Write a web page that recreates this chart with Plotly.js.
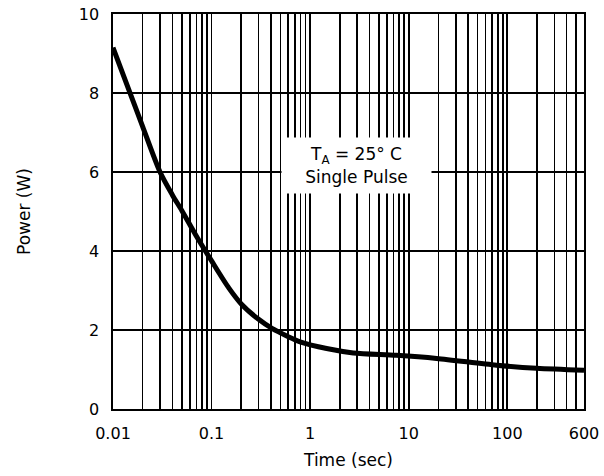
<!DOCTYPE html>
<html>
<head>
<meta charset="utf-8">
<script src="https://cdn.plot.ly/plotly-3.0.1.min.js"></script>
<style>html,body{margin:0;padding:0;background:#fff;}#chart{width:604px;height:476px;}</style>
</head>
<body>
<div id="chart"></div>
<script>
// Data
var timeSec = [0.01, 0.015, 0.02, 0.03, 0.04, 0.05, 0.07, 0.1, 0.15, 0.2, 0.3, 0.41, 0.6, 0.79, 1.47, 2.74, 7.5, 19.2, 77.8, 198, 600];
var powerW  = [9.15, 7.98, 7.15, 6.0, 5.42, 5.02, 4.38, 3.75, 3.06, 2.66, 2.27, 2.04, 1.83, 1.70, 1.53, 1.42, 1.36, 1.28, 1.11, 1.03, 0.98];

var xTickVals = [0.01, 0.1, 1, 10, 100, 600];
var xTickText = ['0.01', '0.1', '1', '10', '100', '600'];
var xMinorVals = [0.02,0.03,0.04,0.05,0.06,0.07,0.08,0.09,
                  0.2,0.3,0.4,0.5,0.6,0.7,0.8,0.9,
                  2,3,4,5,6,7,8,9,
                  20,30,40,50,60,70,80,90,
                  200,300,400,500];
var yTickVals = [0, 2, 4, 6, 8, 10];

var noteText = 'T<sub>A</sub> = 25° C<br>Single Pulse';
var noteX = 2.95, noteY = 6.17;

var font = 'DejaVu Sans, Arial, sans-serif';

var trace = {
  x: timeSec, y: powerW, type: 'scatter', mode: 'lines',
  line: {color: '#000', width: 5, shape: 'spline', smoothing: 0.8},
  hoverinfo: 'skip', showlegend: false
};

var layout = {
  width: 604, height: 476,
  margin: {l: 113, r: 20, t: 14, b: 67},
  paper_bgcolor: '#fff', plot_bgcolor: '#fff',
  font: {family: font, size: 16, color: '#000'},
  showlegend: false,
  xaxis: {
    type: 'log', range: [Math.log10(0.01), Math.log10(600)],
    tickmode: 'array', tickvals: xTickVals, ticktext: xTickText,
    ticks: '', ticklabelstandoff: 9,
    showgrid: true, gridcolor: '#000', gridwidth: 1.6,
    minor: {tickmode: 'array', tickvals: xMinorVals, showgrid: true, gridcolor: '#000', gridwidth: 1.6, ticks: ''},
    showline: true, mirror: true, linecolor: '#000', linewidth: 1.6,
    zeroline: false,
    tickfont: {family: font, size: 16, color: '#000'},
    title: {text: 'Time (sec)', font: {family: font, size: 17, color: '#000'}, standoff: 12}
  },
  yaxis: {
    range: [0, 10], tickmode: 'array', tickvals: yTickVals,
    ticks: '', ticklabelstandoff: 9,
    showgrid: true, gridcolor: '#000', gridwidth: 1.6,
    showline: true, mirror: true, linecolor: '#000', linewidth: 1.6,
    zeroline: false,
    tickfont: {family: font, size: 16, color: '#000'},
    title: {text: 'Power (W)', font: {family: font, size: 17, color: '#000'}, standoff: 44}
  },
  annotations: [{
    x: Math.log10(noteX), y: noteY, xref: 'x', yref: 'y',
    text: noteText, showarrow: false,
    bgcolor: '#fff', borderpad: 0, width: 149, height: 55,
    align: 'center', valign: 'middle',
    font: {family: font, size: 17, color: '#000'}
  }]
};

Plotly.newPlot('chart', [trace], layout, {staticPlot: true, displayModeBar: false});
</script>
</body>
</html>
